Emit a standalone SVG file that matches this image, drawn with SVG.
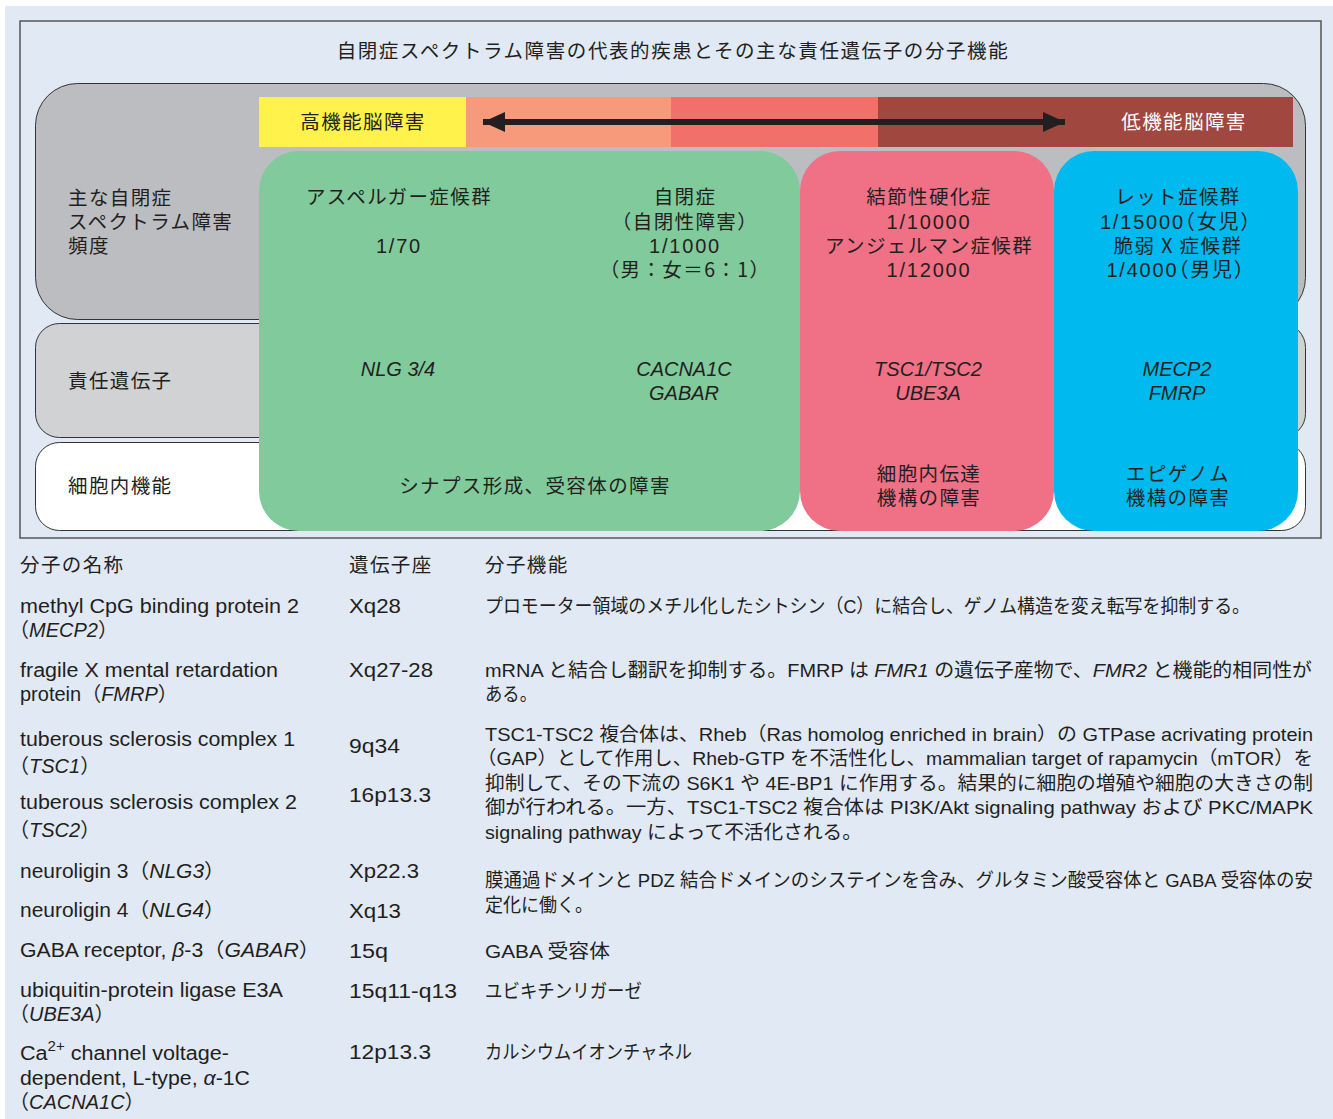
<svg xmlns="http://www.w3.org/2000/svg" width="1333" height="1119" viewBox="0 0 1333 1119">
<style>
.jp{font-family:"Noto Sans CJK JP",sans-serif;font-size:19.5px;letter-spacing:1.4px;fill:#231f20}
.num{font-family:"Liberation Sans","Noto Sans CJK JP",sans-serif;font-size:20px;letter-spacing:1.8px;fill:#231f20}
.gene{font-family:"Liberation Sans","Noto Sans CJK JP",sans-serif;font-size:20px;font-style:italic;fill:#231f20}
.en{font-family:"Liberation Sans","Noto Sans CJK JP",sans-serif;font-size:20px;fill:#231f20}
.tb{font-family:"Liberation Sans","Noto Sans CJK JP",sans-serif;font-size:19px;fill:#231f20}
.i{font-style:italic}
.mid{text-anchor:middle}
.row{stroke:#333;stroke-width:1}
</style>
<defs>
<marker id="ah" viewBox="0 0 22 20" refX="22" refY="10" markerWidth="22" markerHeight="20" markerUnits="userSpaceOnUse" orient="auto-start-reverse">
<path d="M0,0 L22,10 L0,20 Z" fill="#231f20"/>
</marker>
</defs>
<rect x="0" y="0" width="1333" height="1119" fill="#ffffff"/>
<rect x="5" y="6" width="1328" height="1113" fill="#e1e9f5"/>
<g id="frame">
<rect x="20" y="21" width="1301" height="517" fill="#e1e9f5" stroke="#555" stroke-width="1.5"/>
<text class="jp mid" x="673" y="58" style="letter-spacing:1.6px">自閉症スペクトラム障害の代表的疾患とその主な責任遺伝子の分子機能</text>
</g>
<g id="row-frequency">
<rect class="row" x="35.5" y="83.5" width="1270" height="236" rx="42" fill="#bcbdc0"/>
<text class="jp" x="68" y="205">主な自閉症</text>
<text class="jp" x="68" y="229">スペクトラム障害</text>
<text class="jp" x="68" y="253">頻度</text>
</g>
<g id="row-genes">
<rect class="row" x="35.5" y="323.5" width="1270" height="114" rx="24" fill="#d1d2d4"/>
<text class="jp" x="68" y="388">責任遺伝子</text>
</g>
<g id="row-function">
<rect class="row" x="35.5" y="442.5" width="1270" height="88" rx="24" fill="#ffffff"/>
<text class="jp" x="68" y="493">細胞内機能</text>
</g>
<g id="severity-bar">
<rect x="259" y="97" width="207" height="50" fill="#fff24a"/>
<rect x="466" y="97" width="205" height="50" fill="#f7997b"/>
<rect x="671" y="97" width="207" height="50" fill="#f1706a"/>
<rect x="878" y="97" width="415" height="50" fill="#a0473f"/>
<text class="jp mid" x="363" y="129">高機能脳障害</text>
<text class="jp mid" x="1184" y="129" style="fill:#ffffff">低機能脳障害</text>
</g>
<g id="connectors">
<line x1="483" y1="122" x2="1065" y2="122" stroke="#231f20" stroke-width="6" marker-start="url(#ah)" marker-end="url(#ah)"/>
</g>
<g id="box-synapse">
<rect x="259" y="151" width="541" height="380" rx="40" fill="#80ca9b"/>
<text class="jp mid" x="399" y="204">アスペルガー症候群</text>
<text class="num mid" x="399" y="253">1/70</text>
<text class="jp mid" x="685" y="204">自閉症</text>
<text class="jp mid" x="685" y="229">（自閉性障害）</text>
<text class="num mid" x="685" y="253">1/1000</text>
<text class="jp mid" x="685" y="277">（男：女＝6：1）</text>
<text class="gene mid" x="398" y="376">NLG 3/4</text>
<text class="gene mid" x="684" y="376">CACNA1C</text>
<text class="gene mid" x="684" y="400">GABAR</text>
<text class="jp mid" x="535" y="493">シナプス形成、受容体の障害</text>
</g>
<g id="box-signal">
<rect x="800" y="151" width="254" height="380" rx="40" fill="#f07086"/>
<text class="jp mid" x="929" y="204">結節性硬化症</text>
<text class="num mid" x="929" y="229">1/10000</text>
<text class="jp mid" x="929" y="253">アンジェルマン症候群</text>
<text class="num mid" x="929" y="277">1/12000</text>
<text class="gene mid" x="928" y="376">TSC1/TSC2</text>
<text class="gene mid" x="928" y="400">UBE3A</text>
<text class="jp mid" x="929" y="481">細胞内伝達</text>
<text class="jp mid" x="929" y="505">機構の障害</text>
</g>
<g id="box-epigenome">
<rect x="1054" y="151" width="244" height="380" rx="40" fill="#00b9ef"/>
<text class="jp mid" x="1178" y="204">レット症候群</text>
<text class="num mid" x="1181" y="229">1/15000<tspan dx="-10">（女児）</tspan></text>
<text class="jp mid" x="1178" y="253">脆弱 X 症候群</text>
<text class="num mid" x="1181" y="277">1/4000<tspan dx="-10">（男児）</tspan></text>
<text class="gene mid" x="1177" y="376">MECP2</text>
<text class="gene mid" x="1177" y="400">FMRP</text>
<text class="jp mid" x="1178" y="481">エピゲノム</text>
<text class="jp mid" x="1178" y="505">機構の障害</text>
</g>
<g id="table">
<text class="jp" x="20" y="572">分子の名称</text>
<text class="jp" x="349" y="572">遺伝子座</text>
<text class="jp" x="485" y="572">分子機能</text>

<text class="en" x="20" y="613" textLength="279" lengthAdjust="spacingAndGlyphs">methyl CpG binding protein 2</text>
<text class="en" x="9" y="637">（<tspan class="i">MECP2</tspan>）</text>
<text class="en" x="349" y="613" textLength="52" lengthAdjust="spacingAndGlyphs">Xq28</text>
<text class="tb" x="485" y="613" textLength="765" lengthAdjust="spacingAndGlyphs">プロモーター領域のメチル化したシトシン（C）に結合し、ゲノム構造を変え転写を抑制する。</text>

<text class="en" x="20" y="677" textLength="258" lengthAdjust="spacingAndGlyphs">fragile X mental retardation</text>
<text class="en" x="20" y="701">protein（<tspan class="i">FMRP</tspan>）</text>
<text class="en" x="349" y="677" textLength="84" lengthAdjust="spacingAndGlyphs">Xq27-28</text>
<text class="tb" x="485" y="677" textLength="827" lengthAdjust="spacingAndGlyphs">mRNA と結合し翻訳を抑制する。FMRP は <tspan class="i">FMR1</tspan> の遺伝子産物で、<tspan class="i">FMR2</tspan> と機能的相同性が</text>
<text class="tb" x="485" y="701" textLength="52" lengthAdjust="spacingAndGlyphs">ある。</text>

<text class="en" x="20" y="746" textLength="275" lengthAdjust="spacingAndGlyphs">tuberous sclerosis complex 1</text>
<text class="en" x="9" y="773">（<tspan class="i">TSC1</tspan>）</text>
<text class="en" x="349" y="753" textLength="51" lengthAdjust="spacingAndGlyphs">9q34</text>
<text class="en" x="20" y="809" textLength="277" lengthAdjust="spacingAndGlyphs">tuberous sclerosis complex 2</text>
<text class="en" x="9" y="837">（<tspan class="i">TSC2</tspan>）</text>
<text class="en" x="349" y="802" textLength="82" lengthAdjust="spacingAndGlyphs">16p13.3</text>
<text class="tb" x="485" y="741" textLength="828" lengthAdjust="spacingAndGlyphs">TSC1-TSC2 複合体は、Rheb（Ras homolog enriched in brain）の GTPase acrivating protein</text>
<text class="tb" x="477" y="765" textLength="836" lengthAdjust="spacingAndGlyphs">（GAP）として作用し、Rheb-GTP を不活性化し、mammalian target of rapamycin（mTOR）を</text>
<text class="tb" x="485" y="790" textLength="828" lengthAdjust="spacingAndGlyphs">抑制して、その下流の S6K1 や 4E-BP1 に作用する。結果的に細胞の増殖や細胞の大きさの制</text>
<text class="tb" x="485" y="814" textLength="828" lengthAdjust="spacingAndGlyphs">御が行われる。一方、TSC1-TSC2 複合体は PI3K/Akt signaling pathway および PKC/MAPK</text>
<text class="tb" x="485" y="839" textLength="377" lengthAdjust="spacingAndGlyphs">signaling pathway によって不活化される。</text>

<text class="en" x="20" y="878" textLength="205" lengthAdjust="spacingAndGlyphs">neuroligin 3（<tspan class="i">NLG3</tspan>）</text>
<text class="en" x="349" y="878" textLength="70" lengthAdjust="spacingAndGlyphs">Xp22.3</text>
<text class="en" x="20" y="917" textLength="205" lengthAdjust="spacingAndGlyphs">neuroligin 4（<tspan class="i">NLG4</tspan>）</text>
<text class="en" x="349" y="918" textLength="52" lengthAdjust="spacingAndGlyphs">Xq13</text>
<text class="tb" x="485" y="887" textLength="828" lengthAdjust="spacingAndGlyphs">膜通過ドメインと PDZ 結合ドメインのシステインを含み、グルタミン酸受容体と GABA 受容体の安</text>
<text class="tb" x="485" y="912" textLength="108" lengthAdjust="spacingAndGlyphs">定化に働く。</text>

<text class="en" x="20" y="957" textLength="300" lengthAdjust="spacingAndGlyphs">GABA receptor, <tspan class="i">β</tspan>-3（<tspan class="i">GABAR</tspan>）</text>
<text class="en" x="349" y="958" textLength="39" lengthAdjust="spacingAndGlyphs">15q</text>
<text class="tb" x="485" y="958" textLength="125" lengthAdjust="spacingAndGlyphs">GABA 受容体</text>

<text class="en" x="20" y="997" textLength="263" lengthAdjust="spacingAndGlyphs">ubiquitin-protein ligase E3A</text>
<text class="en" x="9" y="1021">（<tspan class="i">UBE3A</tspan>）</text>
<text class="en" x="349" y="998" textLength="108" lengthAdjust="spacingAndGlyphs">15q11-q13</text>
<text class="tb" x="485" y="998" textLength="157" lengthAdjust="spacingAndGlyphs">ユビキチンリガーゼ</text>

<text class="en" x="20" y="1060" textLength="209" lengthAdjust="spacingAndGlyphs">Ca<tspan dy="-9" font-size="14">2+</tspan><tspan dy="9"> channel voltage-</tspan></text>
<text class="en" x="20" y="1085" textLength="230" lengthAdjust="spacingAndGlyphs">dependent, L-type, <tspan class="i">α</tspan>-1C</text>
<text class="en" x="9" y="1109">（<tspan class="i">CACNA1C</tspan>）</text>
<text class="en" x="349" y="1059" textLength="82" lengthAdjust="spacingAndGlyphs">12p13.3</text>
<text class="tb" x="485" y="1059" textLength="207" lengthAdjust="spacingAndGlyphs">カルシウムイオンチャネル</text>
</g>
</svg>
